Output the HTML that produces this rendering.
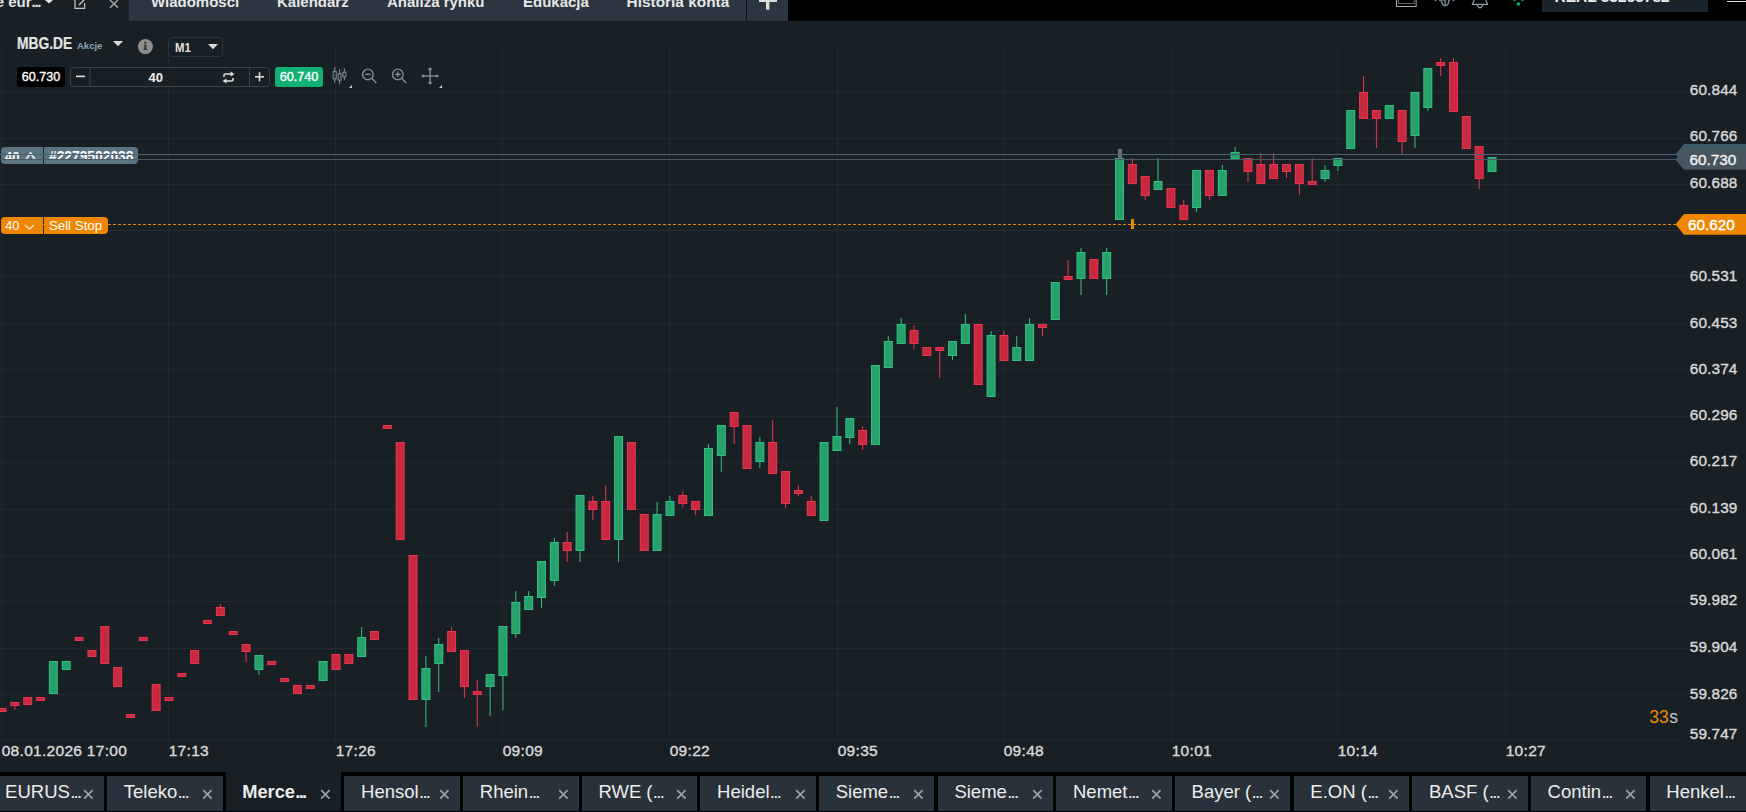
<!DOCTYPE html>
<html><head><meta charset="utf-8">
<style>
*{margin:0;padding:0;box-sizing:border-box}
html,body{width:1746px;height:812px;overflow:hidden;background:#182026;font-family:"Liberation Sans",sans-serif}
.abs{position:absolute}
#top{position:absolute;left:0;top:0;width:1746px;height:21px;background:#182026;overflow:hidden}
#tabs{position:absolute;left:129px;top:0;width:659px;height:21px;background:#2c3640}
#black{position:absolute;left:788px;top:0;width:958px;height:21px;background:#000;overflow:hidden}
.tt{position:absolute;top:-6.8px;font-weight:bold;font-size:15px;color:#e6e6e6;white-space:nowrap;line-height:18px}
#chart{position:absolute;left:0;top:21px;width:1746px;height:751px;background:#182026}
svg{position:absolute;left:0;top:0}
.pl{position:absolute;left:1689.8px;font-size:15.3px;letter-spacing:0.15px;color:#d8d8d8;line-height:20px;white-space:nowrap;-webkit-text-stroke:0.4px #d8d8d8}
.tl{position:absolute;top:740.6px;font-size:15.5px;letter-spacing:0.3px;color:#d8d8d8;line-height:20px;white-space:nowrap;-webkit-text-stroke:0.4px #d8d8d8}
#btabs{position:absolute;left:0;top:772px;width:1746px;height:40px;background:#000}
.bt{position:absolute;top:4px;width:115.6px;height:35px;background:#29323a;overflow:hidden}
.bt.sel{top:0;height:39px;background:#182026}
.btt{position:absolute;left:16.8px;top:5px;font-size:18.5px;color:#ececec;white-space:nowrap;line-height:22px}
.dots{letter-spacing:-1.7px;margin-left:0.3px}
.sel .btt{font-weight:bold;top:9px;left:16.5px;font-size:18.3px}
.btx{position:absolute;left:94.5px;top:13.2px}
.sel .btx{top:17.2px;left:94px}
</style></head><body>
<div id="chart">
<svg width="1746" height="751" viewBox="0 21 1746 751" shape-rendering="crispEdges">
<rect x="0" y="91" width="1687" height="1" fill="#212a31"/>
<rect x="0" y="138" width="1687" height="1" fill="#212a31"/>
<rect x="0" y="184" width="1687" height="1" fill="#212a31"/>
<rect x="0" y="230" width="1687" height="1" fill="#212a31"/>
<rect x="0" y="276" width="1687" height="1" fill="#212a31"/>
<rect x="0" y="323" width="1687" height="1" fill="#212a31"/>
<rect x="0" y="369" width="1687" height="1" fill="#212a31"/>
<rect x="0" y="416" width="1687" height="1" fill="#212a31"/>
<rect x="0" y="462" width="1687" height="1" fill="#212a31"/>
<rect x="0" y="509" width="1687" height="1" fill="#212a31"/>
<rect x="0" y="555" width="1687" height="1" fill="#212a31"/>
<rect x="0" y="601" width="1687" height="1" fill="#212a31"/>
<rect x="0" y="648" width="1687" height="1" fill="#212a31"/>
<rect x="0" y="694" width="1687" height="1" fill="#212a31"/>
<rect x="0" y="740" width="1680" height="1" fill="#212a31"/>
<rect x="1" y="45" width="1" height="696" fill="#212a31"/>
<rect x="168" y="45" width="1" height="696" fill="#212a31"/>
<rect x="335" y="45" width="1" height="696" fill="#212a31"/>
<rect x="502" y="45" width="1" height="696" fill="#212a31"/>
<rect x="669" y="45" width="1" height="696" fill="#212a31"/>
<rect x="837" y="45" width="1" height="696" fill="#212a31"/>
<rect x="1003" y="45" width="1" height="696" fill="#212a31"/>
<rect x="1171" y="45" width="1" height="696" fill="#212a31"/>
<rect x="1337" y="45" width="1" height="696" fill="#212a31"/>
<rect x="1505" y="45" width="1" height="696" fill="#212a31"/>
<g shape-rendering="auto">
<rect x="-2.50" y="708" width="9" height="4" fill="#e8354b"/>
<rect x="-1.50" y="709" width="7" height="2" fill="#c9293e"/>
<rect x="14.35" y="706" width="1" height="4" fill="#e8354b"/>
<rect x="10.35" y="702" width="9" height="4" fill="#e8354b"/>
<rect x="11.35" y="703" width="7" height="2" fill="#c9293e"/>
<rect x="23.19" y="697" width="9" height="8" fill="#e8354b"/>
<rect x="24.19" y="698" width="7" height="6" fill="#c9293e"/>
<rect x="36.04" y="697" width="9" height="4" fill="#e8354b"/>
<rect x="37.04" y="698" width="7" height="2" fill="#c9293e"/>
<rect x="48.88" y="661" width="9" height="33" fill="#2fc07f"/>
<rect x="49.88" y="662" width="7" height="31" fill="#27a06b"/>
<rect x="61.73" y="661" width="9" height="9" fill="#2fc07f"/>
<rect x="62.73" y="662" width="7" height="7" fill="#27a06b"/>
<rect x="74.57" y="637" width="9" height="4" fill="#e8354b"/>
<rect x="75.57" y="638" width="7" height="2" fill="#c9293e"/>
<rect x="87.42" y="650" width="9" height="7" fill="#e8354b"/>
<rect x="88.42" y="651" width="7" height="5" fill="#c9293e"/>
<rect x="100.26" y="626" width="9" height="38" fill="#e8354b"/>
<rect x="101.26" y="627" width="7" height="36" fill="#c9293e"/>
<rect x="113.11" y="667" width="9" height="20" fill="#e8354b"/>
<rect x="114.11" y="668" width="7" height="18" fill="#c9293e"/>
<rect x="125.95" y="714" width="9" height="4" fill="#e8354b"/>
<rect x="126.95" y="715" width="7" height="2" fill="#c9293e"/>
<rect x="138.80" y="637" width="9" height="4" fill="#e8354b"/>
<rect x="139.80" y="638" width="7" height="2" fill="#c9293e"/>
<rect x="151.64" y="684" width="9" height="27" fill="#e8354b"/>
<rect x="152.64" y="685" width="7" height="25" fill="#c9293e"/>
<rect x="164.49" y="697" width="9" height="4" fill="#e8354b"/>
<rect x="165.49" y="698" width="7" height="2" fill="#c9293e"/>
<rect x="177.33" y="673" width="9" height="4" fill="#e8354b"/>
<rect x="178.33" y="674" width="7" height="2" fill="#c9293e"/>
<rect x="190.18" y="650" width="9" height="14" fill="#e8354b"/>
<rect x="191.18" y="651" width="7" height="12" fill="#c9293e"/>
<rect x="203.02" y="620" width="9" height="4" fill="#e8354b"/>
<rect x="204.02" y="621" width="7" height="2" fill="#c9293e"/>
<rect x="219.87" y="604" width="1" height="3" fill="#e8354b"/>
<rect x="215.87" y="607" width="9" height="9" fill="#e8354b"/>
<rect x="216.87" y="608" width="7" height="7" fill="#c9293e"/>
<rect x="228.71" y="631" width="9" height="4" fill="#e8354b"/>
<rect x="229.71" y="632" width="7" height="2" fill="#c9293e"/>
<rect x="245.56" y="652" width="1" height="10" fill="#e8354b"/>
<rect x="241.56" y="644" width="9" height="8" fill="#e8354b"/>
<rect x="242.56" y="645" width="7" height="6" fill="#c9293e"/>
<rect x="258.40" y="670" width="1" height="5" fill="#2fc07f"/>
<rect x="254.40" y="655" width="9" height="15" fill="#2fc07f"/>
<rect x="255.40" y="656" width="7" height="13" fill="#27a06b"/>
<rect x="267.25" y="661" width="9" height="4" fill="#e8354b"/>
<rect x="268.25" y="662" width="7" height="2" fill="#c9293e"/>
<rect x="280.09" y="678" width="9" height="4" fill="#e8354b"/>
<rect x="281.09" y="679" width="7" height="2" fill="#c9293e"/>
<rect x="292.94" y="685" width="9" height="9" fill="#e8354b"/>
<rect x="293.94" y="686" width="7" height="7" fill="#c9293e"/>
<rect x="305.78" y="685" width="9" height="4" fill="#e8354b"/>
<rect x="306.78" y="686" width="7" height="2" fill="#c9293e"/>
<rect x="318.62" y="661" width="9" height="20" fill="#2fc07f"/>
<rect x="319.62" y="662" width="7" height="18" fill="#27a06b"/>
<rect x="331.47" y="654" width="9" height="16" fill="#e8354b"/>
<rect x="332.47" y="655" width="7" height="14" fill="#c9293e"/>
<rect x="344.31" y="654" width="9" height="10" fill="#e8354b"/>
<rect x="345.31" y="655" width="7" height="8" fill="#c9293e"/>
<rect x="361.16" y="627" width="1" height="10" fill="#2fc07f"/>
<rect x="357.16" y="637" width="9" height="20" fill="#2fc07f"/>
<rect x="358.16" y="638" width="7" height="18" fill="#27a06b"/>
<rect x="370.00" y="631" width="9" height="9" fill="#e8354b"/>
<rect x="371.00" y="632" width="7" height="7" fill="#c9293e"/>
<rect x="382.85" y="425" width="9" height="4" fill="#e8354b"/>
<rect x="383.85" y="426" width="7" height="2" fill="#c9293e"/>
<rect x="395.69" y="442" width="9" height="98" fill="#e8354b"/>
<rect x="396.69" y="443" width="7" height="96" fill="#c9293e"/>
<rect x="408.54" y="555" width="9" height="145" fill="#e8354b"/>
<rect x="409.54" y="556" width="7" height="143" fill="#c9293e"/>
<rect x="425.39" y="656" width="1" height="12" fill="#2fc07f"/>
<rect x="425.39" y="700" width="1" height="27" fill="#2fc07f"/>
<rect x="421.39" y="668" width="9" height="32" fill="#2fc07f"/>
<rect x="422.39" y="669" width="7" height="30" fill="#27a06b"/>
<rect x="438.23" y="638" width="1" height="6" fill="#2fc07f"/>
<rect x="438.23" y="664" width="1" height="28" fill="#2fc07f"/>
<rect x="434.23" y="644" width="9" height="20" fill="#2fc07f"/>
<rect x="435.23" y="645" width="7" height="18" fill="#27a06b"/>
<rect x="451.08" y="627" width="1" height="4" fill="#e8354b"/>
<rect x="447.08" y="631" width="9" height="21" fill="#e8354b"/>
<rect x="448.08" y="632" width="7" height="19" fill="#c9293e"/>
<rect x="463.92" y="687" width="1" height="11" fill="#e8354b"/>
<rect x="459.92" y="650" width="9" height="37" fill="#e8354b"/>
<rect x="460.92" y="651" width="7" height="35" fill="#c9293e"/>
<rect x="476.77" y="680" width="1" height="11" fill="#e8354b"/>
<rect x="476.77" y="695" width="1" height="32" fill="#e8354b"/>
<rect x="472.77" y="691" width="9" height="4" fill="#e8354b"/>
<rect x="473.77" y="692" width="7" height="2" fill="#c9293e"/>
<rect x="489.61" y="687" width="1" height="29" fill="#2fc07f"/>
<rect x="485.61" y="674" width="9" height="13" fill="#2fc07f"/>
<rect x="486.61" y="675" width="7" height="11" fill="#27a06b"/>
<rect x="502.46" y="676" width="1" height="34" fill="#2fc07f"/>
<rect x="498.46" y="626" width="9" height="50" fill="#2fc07f"/>
<rect x="499.46" y="627" width="7" height="48" fill="#27a06b"/>
<rect x="515.30" y="591" width="1" height="11" fill="#2fc07f"/>
<rect x="515.30" y="634" width="1" height="4" fill="#2fc07f"/>
<rect x="511.30" y="602" width="9" height="32" fill="#2fc07f"/>
<rect x="512.30" y="603" width="7" height="30" fill="#27a06b"/>
<rect x="528.14" y="591" width="1" height="5" fill="#2fc07f"/>
<rect x="524.14" y="596" width="9" height="14" fill="#2fc07f"/>
<rect x="525.14" y="597" width="7" height="12" fill="#27a06b"/>
<rect x="540.99" y="598" width="1" height="10" fill="#2fc07f"/>
<rect x="536.99" y="561" width="9" height="37" fill="#2fc07f"/>
<rect x="537.99" y="562" width="7" height="35" fill="#27a06b"/>
<rect x="553.84" y="538" width="1" height="4" fill="#2fc07f"/>
<rect x="553.84" y="581" width="1" height="5" fill="#2fc07f"/>
<rect x="549.84" y="542" width="9" height="39" fill="#2fc07f"/>
<rect x="550.84" y="543" width="7" height="37" fill="#27a06b"/>
<rect x="566.68" y="532" width="1" height="10" fill="#e8354b"/>
<rect x="566.68" y="551" width="1" height="11" fill="#e8354b"/>
<rect x="562.68" y="542" width="9" height="9" fill="#e8354b"/>
<rect x="563.68" y="543" width="7" height="7" fill="#c9293e"/>
<rect x="579.52" y="551" width="1" height="11" fill="#2fc07f"/>
<rect x="575.52" y="495" width="9" height="56" fill="#2fc07f"/>
<rect x="576.52" y="496" width="7" height="54" fill="#27a06b"/>
<rect x="592.37" y="496" width="1" height="5" fill="#e8354b"/>
<rect x="592.37" y="510" width="1" height="10" fill="#e8354b"/>
<rect x="588.37" y="501" width="9" height="9" fill="#e8354b"/>
<rect x="589.37" y="502" width="7" height="7" fill="#c9293e"/>
<rect x="605.22" y="485" width="1" height="16" fill="#e8354b"/>
<rect x="601.22" y="501" width="9" height="39" fill="#e8354b"/>
<rect x="602.22" y="502" width="7" height="37" fill="#c9293e"/>
<rect x="618.06" y="540" width="1" height="22" fill="#2fc07f"/>
<rect x="614.06" y="436" width="9" height="104" fill="#2fc07f"/>
<rect x="615.06" y="437" width="7" height="102" fill="#27a06b"/>
<rect x="626.91" y="442" width="9" height="68" fill="#e8354b"/>
<rect x="627.91" y="443" width="7" height="66" fill="#c9293e"/>
<rect x="639.75" y="514" width="9" height="37" fill="#e8354b"/>
<rect x="640.75" y="515" width="7" height="35" fill="#c9293e"/>
<rect x="656.60" y="502" width="1" height="12" fill="#2fc07f"/>
<rect x="652.60" y="514" width="9" height="37" fill="#2fc07f"/>
<rect x="653.60" y="515" width="7" height="35" fill="#27a06b"/>
<rect x="669.44" y="496" width="1" height="5" fill="#2fc07f"/>
<rect x="665.44" y="501" width="9" height="15" fill="#2fc07f"/>
<rect x="666.44" y="502" width="7" height="13" fill="#27a06b"/>
<rect x="682.29" y="491" width="1" height="4" fill="#e8354b"/>
<rect x="682.29" y="504" width="1" height="4" fill="#e8354b"/>
<rect x="678.29" y="495" width="9" height="9" fill="#e8354b"/>
<rect x="679.29" y="496" width="7" height="7" fill="#c9293e"/>
<rect x="695.13" y="510" width="1" height="5" fill="#e8354b"/>
<rect x="691.13" y="501" width="9" height="9" fill="#e8354b"/>
<rect x="692.13" y="502" width="7" height="7" fill="#c9293e"/>
<rect x="707.98" y="444" width="1" height="4" fill="#2fc07f"/>
<rect x="703.98" y="448" width="9" height="68" fill="#2fc07f"/>
<rect x="704.98" y="449" width="7" height="66" fill="#27a06b"/>
<rect x="720.82" y="456" width="1" height="16" fill="#2fc07f"/>
<rect x="716.82" y="425" width="9" height="31" fill="#2fc07f"/>
<rect x="717.82" y="426" width="7" height="29" fill="#27a06b"/>
<rect x="733.67" y="427" width="1" height="17" fill="#e8354b"/>
<rect x="729.67" y="412" width="9" height="15" fill="#e8354b"/>
<rect x="730.67" y="413" width="7" height="13" fill="#c9293e"/>
<rect x="742.51" y="425" width="9" height="44" fill="#e8354b"/>
<rect x="743.51" y="426" width="7" height="42" fill="#c9293e"/>
<rect x="759.36" y="437" width="1" height="5" fill="#2fc07f"/>
<rect x="759.36" y="462" width="1" height="6" fill="#2fc07f"/>
<rect x="755.36" y="442" width="9" height="20" fill="#2fc07f"/>
<rect x="756.36" y="443" width="7" height="18" fill="#27a06b"/>
<rect x="772.20" y="420" width="1" height="22" fill="#e8354b"/>
<rect x="768.20" y="442" width="9" height="32" fill="#e8354b"/>
<rect x="769.20" y="443" width="7" height="30" fill="#c9293e"/>
<rect x="785.05" y="504" width="1" height="4" fill="#e8354b"/>
<rect x="781.05" y="471" width="9" height="33" fill="#e8354b"/>
<rect x="782.05" y="472" width="7" height="31" fill="#c9293e"/>
<rect x="797.89" y="485" width="1" height="5" fill="#e8354b"/>
<rect x="797.89" y="494" width="1" height="2" fill="#e8354b"/>
<rect x="793.89" y="490" width="9" height="4" fill="#e8354b"/>
<rect x="794.89" y="491" width="7" height="2" fill="#c9293e"/>
<rect x="810.74" y="496" width="1" height="5" fill="#e8354b"/>
<rect x="806.74" y="501" width="9" height="15" fill="#e8354b"/>
<rect x="807.74" y="502" width="7" height="13" fill="#c9293e"/>
<rect x="819.58" y="442" width="9" height="79" fill="#2fc07f"/>
<rect x="820.58" y="443" width="7" height="77" fill="#27a06b"/>
<rect x="836.43" y="407" width="1" height="29" fill="#2fc07f"/>
<rect x="832.43" y="436" width="9" height="15" fill="#2fc07f"/>
<rect x="833.43" y="437" width="7" height="13" fill="#27a06b"/>
<rect x="849.27" y="438" width="1" height="6" fill="#2fc07f"/>
<rect x="845.27" y="418" width="9" height="20" fill="#2fc07f"/>
<rect x="846.27" y="419" width="7" height="18" fill="#27a06b"/>
<rect x="862.12" y="426" width="1" height="4" fill="#e8354b"/>
<rect x="862.12" y="445" width="1" height="5" fill="#e8354b"/>
<rect x="858.12" y="430" width="9" height="15" fill="#e8354b"/>
<rect x="859.12" y="431" width="7" height="13" fill="#c9293e"/>
<rect x="870.96" y="365" width="9" height="80" fill="#2fc07f"/>
<rect x="871.96" y="366" width="7" height="78" fill="#27a06b"/>
<rect x="887.81" y="336" width="1" height="5" fill="#2fc07f"/>
<rect x="883.81" y="341" width="9" height="27" fill="#2fc07f"/>
<rect x="884.81" y="342" width="7" height="25" fill="#27a06b"/>
<rect x="900.65" y="318" width="1" height="6" fill="#2fc07f"/>
<rect x="896.65" y="324" width="9" height="20" fill="#2fc07f"/>
<rect x="897.65" y="325" width="7" height="18" fill="#27a06b"/>
<rect x="913.50" y="325" width="1" height="5" fill="#e8354b"/>
<rect x="913.50" y="344" width="1" height="5" fill="#e8354b"/>
<rect x="909.50" y="330" width="9" height="14" fill="#e8354b"/>
<rect x="910.50" y="331" width="7" height="12" fill="#c9293e"/>
<rect x="922.34" y="347" width="9" height="9" fill="#e8354b"/>
<rect x="923.34" y="348" width="7" height="7" fill="#c9293e"/>
<rect x="939.19" y="351" width="1" height="27" fill="#e8354b"/>
<rect x="935.19" y="347" width="9" height="4" fill="#e8354b"/>
<rect x="936.19" y="348" width="7" height="2" fill="#c9293e"/>
<rect x="952.03" y="356" width="1" height="4" fill="#2fc07f"/>
<rect x="948.03" y="341" width="9" height="15" fill="#2fc07f"/>
<rect x="949.03" y="342" width="7" height="13" fill="#27a06b"/>
<rect x="964.88" y="314" width="1" height="10" fill="#2fc07f"/>
<rect x="960.88" y="324" width="9" height="20" fill="#2fc07f"/>
<rect x="961.88" y="325" width="7" height="18" fill="#27a06b"/>
<rect x="973.72" y="324" width="9" height="61" fill="#e8354b"/>
<rect x="974.72" y="325" width="7" height="59" fill="#c9293e"/>
<rect x="990.57" y="331" width="1" height="4" fill="#2fc07f"/>
<rect x="986.57" y="335" width="9" height="62" fill="#2fc07f"/>
<rect x="987.57" y="336" width="7" height="60" fill="#27a06b"/>
<rect x="1003.41" y="331" width="1" height="4" fill="#e8354b"/>
<rect x="999.41" y="335" width="9" height="26" fill="#e8354b"/>
<rect x="1000.41" y="336" width="7" height="24" fill="#c9293e"/>
<rect x="1016.25" y="336" width="1" height="11" fill="#2fc07f"/>
<rect x="1012.25" y="347" width="9" height="14" fill="#2fc07f"/>
<rect x="1013.25" y="348" width="7" height="12" fill="#27a06b"/>
<rect x="1029.10" y="318" width="1" height="6" fill="#2fc07f"/>
<rect x="1025.10" y="324" width="9" height="37" fill="#2fc07f"/>
<rect x="1026.10" y="325" width="7" height="35" fill="#27a06b"/>
<rect x="1041.95" y="328" width="1" height="8" fill="#e8354b"/>
<rect x="1037.95" y="324" width="9" height="4" fill="#e8354b"/>
<rect x="1038.95" y="325" width="7" height="2" fill="#c9293e"/>
<rect x="1050.79" y="282" width="9" height="38" fill="#2fc07f"/>
<rect x="1051.79" y="283" width="7" height="36" fill="#27a06b"/>
<rect x="1067.63" y="260" width="1" height="16" fill="#e8354b"/>
<rect x="1063.63" y="276" width="9" height="4" fill="#e8354b"/>
<rect x="1064.63" y="277" width="7" height="2" fill="#c9293e"/>
<rect x="1080.48" y="248" width="1" height="4" fill="#2fc07f"/>
<rect x="1080.48" y="279" width="1" height="16" fill="#2fc07f"/>
<rect x="1076.48" y="252" width="9" height="27" fill="#2fc07f"/>
<rect x="1077.48" y="253" width="7" height="25" fill="#27a06b"/>
<rect x="1089.33" y="259" width="9" height="20" fill="#e8354b"/>
<rect x="1090.33" y="260" width="7" height="18" fill="#c9293e"/>
<rect x="1106.17" y="248" width="1" height="4" fill="#2fc07f"/>
<rect x="1106.17" y="279" width="1" height="16" fill="#2fc07f"/>
<rect x="1102.17" y="252" width="9" height="27" fill="#2fc07f"/>
<rect x="1103.17" y="253" width="7" height="25" fill="#27a06b"/>
<rect x="1115.02" y="158" width="9" height="62" fill="#2fc07f"/>
<rect x="1116.02" y="159" width="7" height="60" fill="#27a06b"/>
<rect x="1131.86" y="158" width="1" height="6" fill="#e8354b"/>
<rect x="1127.86" y="164" width="9" height="20" fill="#e8354b"/>
<rect x="1128.86" y="165" width="7" height="18" fill="#c9293e"/>
<rect x="1144.71" y="196" width="1" height="4" fill="#e8354b"/>
<rect x="1140.71" y="176" width="9" height="20" fill="#e8354b"/>
<rect x="1141.71" y="177" width="7" height="18" fill="#c9293e"/>
<rect x="1157.55" y="158" width="1" height="23" fill="#2fc07f"/>
<rect x="1153.55" y="181" width="9" height="9" fill="#2fc07f"/>
<rect x="1154.55" y="182" width="7" height="7" fill="#27a06b"/>
<rect x="1166.39" y="188" width="9" height="20" fill="#e8354b"/>
<rect x="1167.39" y="189" width="7" height="18" fill="#c9293e"/>
<rect x="1183.24" y="200" width="1" height="5" fill="#e8354b"/>
<rect x="1179.24" y="205" width="9" height="15" fill="#e8354b"/>
<rect x="1180.24" y="206" width="7" height="13" fill="#c9293e"/>
<rect x="1196.09" y="208" width="1" height="4" fill="#2fc07f"/>
<rect x="1192.09" y="170" width="9" height="38" fill="#2fc07f"/>
<rect x="1193.09" y="171" width="7" height="36" fill="#27a06b"/>
<rect x="1208.93" y="196" width="1" height="4" fill="#e8354b"/>
<rect x="1204.93" y="170" width="9" height="26" fill="#e8354b"/>
<rect x="1205.93" y="171" width="7" height="24" fill="#c9293e"/>
<rect x="1221.78" y="165" width="1" height="5" fill="#2fc07f"/>
<rect x="1217.78" y="170" width="9" height="26" fill="#2fc07f"/>
<rect x="1218.78" y="171" width="7" height="24" fill="#27a06b"/>
<rect x="1234.62" y="147" width="1" height="5" fill="#2fc07f"/>
<rect x="1230.62" y="152" width="9" height="7" fill="#2fc07f"/>
<rect x="1231.62" y="153" width="7" height="5" fill="#27a06b"/>
<rect x="1247.47" y="172" width="1" height="10" fill="#e8354b"/>
<rect x="1243.47" y="158" width="9" height="14" fill="#e8354b"/>
<rect x="1244.47" y="159" width="7" height="12" fill="#c9293e"/>
<rect x="1260.31" y="153" width="1" height="11" fill="#e8354b"/>
<rect x="1256.31" y="164" width="9" height="20" fill="#e8354b"/>
<rect x="1257.31" y="165" width="7" height="18" fill="#c9293e"/>
<rect x="1273.15" y="153" width="1" height="11" fill="#e8354b"/>
<rect x="1269.15" y="164" width="9" height="15" fill="#e8354b"/>
<rect x="1270.15" y="165" width="7" height="13" fill="#c9293e"/>
<rect x="1286.00" y="172" width="1" height="6" fill="#e8354b"/>
<rect x="1282.00" y="164" width="9" height="8" fill="#e8354b"/>
<rect x="1283.00" y="165" width="7" height="6" fill="#c9293e"/>
<rect x="1298.85" y="184" width="1" height="11" fill="#e8354b"/>
<rect x="1294.85" y="164" width="9" height="20" fill="#e8354b"/>
<rect x="1295.85" y="165" width="7" height="18" fill="#c9293e"/>
<rect x="1311.69" y="158" width="1" height="23" fill="#e8354b"/>
<rect x="1307.69" y="181" width="9" height="4" fill="#e8354b"/>
<rect x="1308.69" y="182" width="7" height="2" fill="#c9293e"/>
<rect x="1324.54" y="165" width="1" height="5" fill="#2fc07f"/>
<rect x="1324.54" y="179" width="1" height="3" fill="#2fc07f"/>
<rect x="1320.54" y="170" width="9" height="9" fill="#2fc07f"/>
<rect x="1321.54" y="171" width="7" height="7" fill="#27a06b"/>
<rect x="1337.38" y="166" width="1" height="5" fill="#2fc07f"/>
<rect x="1333.38" y="158" width="9" height="8" fill="#2fc07f"/>
<rect x="1334.38" y="159" width="7" height="6" fill="#27a06b"/>
<rect x="1346.23" y="110" width="9" height="39" fill="#2fc07f"/>
<rect x="1347.23" y="111" width="7" height="37" fill="#27a06b"/>
<rect x="1363.07" y="76" width="1" height="16" fill="#e8354b"/>
<rect x="1359.07" y="92" width="9" height="27" fill="#e8354b"/>
<rect x="1360.07" y="93" width="7" height="25" fill="#c9293e"/>
<rect x="1375.91" y="119" width="1" height="29" fill="#e8354b"/>
<rect x="1371.91" y="110" width="9" height="9" fill="#e8354b"/>
<rect x="1372.91" y="111" width="7" height="7" fill="#c9293e"/>
<rect x="1384.76" y="105" width="9" height="14" fill="#2fc07f"/>
<rect x="1385.76" y="106" width="7" height="12" fill="#27a06b"/>
<rect x="1401.61" y="142" width="1" height="12" fill="#e8354b"/>
<rect x="1397.61" y="110" width="9" height="32" fill="#e8354b"/>
<rect x="1398.61" y="111" width="7" height="30" fill="#c9293e"/>
<rect x="1414.45" y="136" width="1" height="12" fill="#2fc07f"/>
<rect x="1410.45" y="92" width="9" height="44" fill="#2fc07f"/>
<rect x="1411.45" y="93" width="7" height="42" fill="#27a06b"/>
<rect x="1427.30" y="108" width="1" height="3" fill="#2fc07f"/>
<rect x="1423.30" y="68" width="9" height="40" fill="#2fc07f"/>
<rect x="1424.30" y="69" width="7" height="38" fill="#27a06b"/>
<rect x="1440.14" y="58" width="1" height="4" fill="#e8354b"/>
<rect x="1440.14" y="66" width="1" height="10" fill="#e8354b"/>
<rect x="1436.14" y="62" width="9" height="4" fill="#e8354b"/>
<rect x="1437.14" y="63" width="7" height="2" fill="#c9293e"/>
<rect x="1452.99" y="58" width="1" height="4" fill="#e8354b"/>
<rect x="1448.99" y="62" width="9" height="50" fill="#e8354b"/>
<rect x="1449.99" y="63" width="7" height="48" fill="#c9293e"/>
<rect x="1461.83" y="116" width="9" height="33" fill="#e8354b"/>
<rect x="1462.83" y="117" width="7" height="31" fill="#c9293e"/>
<rect x="1478.68" y="179" width="1" height="10" fill="#e8354b"/>
<rect x="1474.68" y="146" width="9" height="33" fill="#e8354b"/>
<rect x="1475.68" y="147" width="7" height="31" fill="#c9293e"/>
<rect x="1487.52" y="157" width="9" height="15" fill="#2fc07f"/>
<rect x="1488.52" y="158" width="7" height="13" fill="#27a06b"/>
</g>
</svg>
</div>
<div class="abs" style="left:0;top:0;width:1746px;height:812px">
<div class="pl" style="top:79.65px">60.844</div>
<div class="pl" style="top:125.95px">60.766</div>
<div class="pl" style="top:172.65px">60.688</div>
<div class="pl" style="top:219.15px">60.609</div>
<div class="pl" style="top:265.60px">60.531</div>
<div class="pl" style="top:313.00px">60.453</div>
<div class="pl" style="top:359.25px">60.374</div>
<div class="pl" style="top:404.75px">60.296</div>
<div class="pl" style="top:451.15px">60.217</div>
<div class="pl" style="top:498.00px">60.139</div>
<div class="pl" style="top:544.25px">60.061</div>
<div class="pl" style="top:590.30px">59.982</div>
<div class="pl" style="top:637.00px">59.904</div>
<div class="pl" style="top:683.80px">59.826</div>
<div class="pl" style="top:723.65px">59.747</div>
<div class="tl" style="left:1.7px">08.01.2026 17:00</div>
<div class="tl" style="left:168.7px">17:13</div>
<div class="tl" style="left:335.7px">17:26</div>
<div class="tl" style="left:502.7px">09:09</div>
<div class="tl" style="left:669.7px">09:22</div>
<div class="tl" style="left:837.7px">09:35</div>
<div class="tl" style="left:1003.7px">09:48</div>
<div class="tl" style="left:1171.7px">10:01</div>
<div class="tl" style="left:1337.7px">10:14</div>
<div class="tl" style="left:1505.7px">10:27</div>
</div>
<svg width="1746" height="812" style="position:absolute;left:0;top:0">
<line x1="108" y1="224.5" x2="1676" y2="224.5" stroke="#e88a00" stroke-width="1" stroke-dasharray="3 2" shape-rendering="crispEdges"/>
<rect x="1118" y="149" width="4" height="10" fill="#5d7482"/>
<rect x="1131" y="219" width="3" height="10" fill="#e88a00"/>
<path d="M1675.5 154.3 L1684 144 L1746 144 L1746 164.7 L1684 164.7 Z" fill="#3e5969"/>
<path d="M1675.5 159.4 L1684 149 L1746 149 L1746 169.8 L1684 169.8 Z" fill="#47555f"/>
<path d="M1675.5 224.3 L1684 214 L1746 214 L1746 234.8 L1684 234.8 Z" fill="#ee8600"/>
</svg>

<div class="abs" style="left:1px;top:147px;width:137px;height:17px;border-radius:4px;background:#5a7483;overflow:hidden">
  <div class="abs" style="left:41.8px;top:0;width:1.4px;height:17px;background:#1d2830"></div>
  <div class="abs" style="left:0;top:0;width:137px;height:12px;overflow:hidden">
    <div class="abs" style="left:4px;top:3px;font-weight:bold;font-size:13px;color:#fff;line-height:14px;white-space:nowrap">40</div>
    <svg class="abs" style="left:0;top:0" width="137" height="17"><path d="M24.8 13 L29.5 6 L34.2 13" fill="none" stroke="#d5dde1" stroke-width="2.2" stroke-linejoin="round"/></svg>
    <div class="abs" style="left:48px;top:3px;font-weight:bold;font-size:13.8px;color:#fff;line-height:14px;white-space:nowrap">#2279502038</div>
  </div>
</div>
<div class="abs" style="left:1px;top:217px;width:107px;height:17px;border-radius:4px;background:#ee8600;overflow:hidden">
  <div class="abs" style="left:41.8px;top:0;width:1.4px;height:17px;background:#1d2830"></div>
  <div class="abs" style="left:41.8px;top:7px;width:1.4px;height:1px;background:#e88a00"></div>
  <div class="abs" style="left:4.2px;top:1px;font-size:12.8px;color:#fff;line-height:15px;white-space:nowrap">40</div>
  <svg class="abs" style="left:0;top:0" width="50" height="17"><path d="M24 8 L28.5 12 L33 8" fill="none" stroke="#fde3c6" stroke-width="1.5"/></svg>
  <div class="abs" style="left:47.9px;top:1px;font-size:13.3px;color:#fff;line-height:15px;white-space:nowrap">Sell Stop</div>
</div>
<div class="abs" style="left:1689.5px;top:149.5px;font-size:15.3px;color:#f2f2f2;line-height:20px;-webkit-text-stroke:0.4px #f2f2f2" >60.730</div>
<div class="abs" style="left:1688px;top:214.5px;font-size:15.3px;color:#fff;line-height:20px;-webkit-text-stroke:0.4px #fff" >60.620</div>
<div class="abs" style="left:1649.3px;top:706.5px;font-size:17.5px;color:#f08a00;line-height:20px">33<span style="color:#c8c8c8;margin-left:0.5px">s</span></div>

<svg width="1680" height="170" style="position:absolute;left:0;top:0" shape-rendering="crispEdges"><rect x="0" y="154" width="1676" height="1" fill="#4a6473"/><rect x="0" y="159" width="1676" height="1" fill="#4b5963"/></svg>

<div class="abs" style="left:17px;top:33.9px;font-weight:bold;font-size:15.8px;color:#e4e4e4;-webkit-text-stroke:0.2px #e4e4e4;line-height:20px;transform:scaleX(0.873);transform-origin:0 0;white-space:nowrap">MBG.DE</div>
<div class="abs" style="left:77px;top:40px;font-weight:bold;font-size:9.5px;color:#8ea3b0;line-height:12px;white-space:nowrap">Akcje</div>
<svg class="abs" style="left:0;top:0" width="460" height="95">
 <path d="M113 41 L123 41 L118 46.3 Z" fill="#dcdcdc"/>
 <circle cx="145.4" cy="46.6" r="7.5" fill="#8e8e8e"/>
 <rect x="144" y="41.8" width="2.6" height="1.8" fill="#3a3a3a"/>
 <rect x="144.2" y="44.6" width="2.3" height="4.8" fill="#3a3a3a"/>
 <rect x="143.4" y="48.8" width="3.9" height="1.3" fill="#3a3a3a"/>
 <rect x="168.5" y="37.5" width="54" height="19" rx="3" fill="#182026" stroke="#2b343c" stroke-width="1"/>
 <path d="M208 44 L218 44 L213 49.2 Z" fill="#dcdcdc"/>
 <rect x="17" y="67" width="48" height="20" rx="3" fill="#000"/>
 <rect x="70.5" y="67.5" width="199" height="19" rx="3" fill="#182026" stroke="#38424b" stroke-width="1"/>
 <rect x="89.5" y="67.5" width="1" height="19" fill="#38424b"/>
 <rect x="249" y="67.5" width="1" height="19" fill="#38424b"/>
 <rect x="76" y="75.6" width="9" height="1.6" fill="#dedede"/>
 <rect x="255" y="76" width="9" height="1.6" fill="#dedede"/>
 <rect x="258.7" y="72.3" width="1.6" height="9" fill="#dedede"/>
 <g fill="none" stroke="#dedede" stroke-width="1.6">
  <path d="M224 77 L224 75 Q224 74 225.5 74 L233 74"/>
  <path d="M233 78 L233 80 Q233 81 231.5 81 L224 81"/>
 </g>
 <path d="M230.5 71.5 L234.5 74 L230.5 76.5 Z" fill="#dedede"/>
 <path d="M226.5 78.5 L222.5 81 L226.5 83.5 Z" fill="#dedede"/>
 <rect x="275" y="67" width="48" height="20" rx="3" fill="#11b174"/>
 <g fill="none" stroke="#7a8c96" stroke-width="1.1">
  <line x1="334.7" y1="67.3" x2="334.7" y2="82.6"/><rect x="333.2" y="71.6" width="3" height="7.2" fill="#1a2229"/>
  <line x1="339.6" y1="69.2" x2="339.6" y2="84"/><rect x="338.2" y="73.7" width="2.8" height="6.5" fill="#1a2229"/>
  <line x1="344.4" y1="68.2" x2="344.4" y2="80.2"/><rect x="342.9" y="72.3" width="3" height="4.5" fill="#1a2229"/>
 </g>
 <path d="M352 85 L352 88 L349 88 Z" fill="#cfcfcf"/>
 <g fill="none" stroke="#7a8c96" stroke-width="1.4">
  <circle cx="367.9" cy="74.4" r="5.3"/><line x1="371.8" y1="78.3" x2="376.3" y2="83"/>
  <line x1="365.2" y1="74.3" x2="370.7" y2="74.3"/>
  <circle cx="397.8" cy="74.4" r="5.3"/><line x1="401.7" y1="78.3" x2="406.2" y2="83"/>
  <line x1="395.1" y1="74.3" x2="400.6" y2="74.3"/><line x1="397.85" y1="71.6" x2="397.85" y2="77.1"/>
  <line x1="423" y1="76" x2="437.5" y2="76"/><line x1="430.1" y1="68.8" x2="430.1" y2="83.2"/>
 </g>
 <g fill="#7a8c96"><circle cx="423.2" cy="76" r="1.6"/><circle cx="437" cy="76" r="1.6"/><circle cx="430.1" cy="69.2" r="1.6"/><circle cx="430.1" cy="82.8" r="1.6"/></g>
 <path d="M442 85 L442 88 L439 88 Z" fill="#cfcfcf"/>
</svg>
<div class="abs" style="left:174.5px;top:39.8px;font-weight:bold;font-size:12.6px;color:#e2e2e2;line-height:16px;transform:scaleX(0.9);transform-origin:0 0">M1</div>
<div class="abs" style="left:21.8px;top:69px;font-size:12.6px;color:#fff;line-height:17px;-webkit-text-stroke:0.35px #fff">60.730</div>
<div class="abs" style="left:148.5px;top:68.5px;font-weight:bold;font-size:13px;color:#f0f0f0;line-height:17px">40</div>
<div class="abs" style="left:279.8px;top:68.5px;font-size:12.6px;color:#fff;line-height:17px;-webkit-text-stroke:0.35px #fff">60.740</div>


<div id="top">
  <div class="tt" style="left:-4.3px;top:-7px">e eur<span style="letter-spacing:-1.3px">...</span></div>
  <svg class="abs" style="left:0;top:0" width="130" height="21">
    <path d="M45 0 L53 0 L49 3.6 Z" fill="#e6e6e6"/>
    <path d="M75 0 L75 8.4 L84.6 8.4 L84.6 3" fill="none" stroke="#c8c8c8" stroke-width="1.2"/>
    <path d="M79 5 L84 0" fill="none" stroke="#c8c8c8" stroke-width="1.4"/>
    <path d="M110 0 L118 7.6 M118 0 L110 7.6" fill="none" stroke="#9a9a9a" stroke-width="1.6"/>
  </svg>
  <div id="tabs">
    <div class="tt" style="left:22px">Wiadomości</div>
    <div class="tt" style="left:148px">Kalendarz</div>
    <div class="tt" style="left:258px">Analiza rynku</div>
    <div class="tt" style="left:394px">Edukacja</div>
    <div class="tt" style="left:497.6px;font-size:15.4px">Historia konta</div>
    <div class="abs" style="left:616.8px;top:0;width:1.4px;height:21px;background:#0c1014"></div>
    <svg class="abs" style="left:618px;top:0" width="41" height="21"><rect x="12" y="0" width="18" height="2" fill="#dcdcdc"/><rect x="19" y="0" width="3.4" height="9.7" fill="#dcdcdc"/></svg>
  </div>
  <div id="black">
    <svg class="abs" style="left:0;top:0" width="958" height="21">
      <rect x="608.5" y="-3" width="19.6" height="9.5" fill="none" stroke="#a8b0b5" stroke-width="1"/>
      <rect x="610.5" y="-3" width="15.6" height="6.5" fill="none" stroke="#59646b" stroke-width="1"/>
      <path d="M657.3 -2 L657.3 6.5 M653.5 -1 Q653.5 5.5 657.3 5.5 Q661 5.5 661 -1" fill="none" stroke="#6b7c86" stroke-width="1.6"/><path d="M646.5 0.5 L668.5 0.5" stroke="#6b7c86" stroke-width="1.3" stroke-dasharray="2 2.5" fill="none"/>
      <path d="M687 -2 L684.5 4.3 L699.5 4.3 L697 -2 M689 5 Q692 10.5 695 5" fill="none" stroke="#8c989e" stroke-width="1.3"/>
      <path d="M725.5 0.5 Q730.5 -3 735.5 0.5" fill="none" stroke="#15b070" stroke-width="2"/>
      <circle cx="730.4" cy="4" r="1.8" fill="#15b070"/>
      <rect x="754" y="0" width="166" height="12" fill="#1b242b"/>
      <rect x="939" y="1" width="19" height="1" fill="#dcdcdc"/>
    </svg>
    <div class="tt" style="left:766.5px;top:-12.1px;font-size:15.5px;color:#f0f0f0">REAL 53265782</div>
  </div>
</div>
<div id="btabs">
<div class="bt" style="left:-11.7px"><span class="btt">EURUS<span class="dots">...</span></span><svg class="btx" width="12" height="12"><path d="M1.2 1.2 L9.6 9.6 M9.6 1.2 L1.2 9.6" stroke="#9ca1a5" stroke-width="1.7" fill="none"/></svg></div>
<div class="bt" style="left:107.0px"><span class="btt">Teleko<span class="dots">...</span></span><svg class="btx" width="12" height="12"><path d="M1.2 1.2 L9.6 9.6 M9.6 1.2 L1.2 9.6" stroke="#9ca1a5" stroke-width="1.7" fill="none"/></svg></div>
<div class="bt sel" style="left:225.7px"><span class="btt">Merce<span class="dots">...</span></span><svg class="btx" width="12" height="12"><path d="M1.2 1.2 L9.6 9.6 M9.6 1.2 L1.2 9.6" stroke="#9ca1a5" stroke-width="1.7" fill="none"/></svg></div>
<div class="bt" style="left:344.3px"><span class="btt">Hensol<span class="dots">...</span></span><svg class="btx" width="12" height="12"><path d="M1.2 1.2 L9.6 9.6 M9.6 1.2 L1.2 9.6" stroke="#9ca1a5" stroke-width="1.7" fill="none"/></svg></div>
<div class="bt" style="left:463.0px"><span class="btt">Rhein<span class="dots">...</span></span><svg class="btx" width="12" height="12"><path d="M1.2 1.2 L9.6 9.6 M9.6 1.2 L1.2 9.6" stroke="#9ca1a5" stroke-width="1.7" fill="none"/></svg></div>
<div class="bt" style="left:581.6px"><span class="btt">RWE (<span class="dots">...</span></span><svg class="btx" width="12" height="12"><path d="M1.2 1.2 L9.6 9.6 M9.6 1.2 L1.2 9.6" stroke="#9ca1a5" stroke-width="1.7" fill="none"/></svg></div>
<div class="bt" style="left:700.3px"><span class="btt">Heidel<span class="dots">...</span></span><svg class="btx" width="12" height="12"><path d="M1.2 1.2 L9.6 9.6 M9.6 1.2 L1.2 9.6" stroke="#9ca1a5" stroke-width="1.7" fill="none"/></svg></div>
<div class="bt" style="left:818.9px"><span class="btt">Sieme<span class="dots">...</span></span><svg class="btx" width="12" height="12"><path d="M1.2 1.2 L9.6 9.6 M9.6 1.2 L1.2 9.6" stroke="#9ca1a5" stroke-width="1.7" fill="none"/></svg></div>
<div class="bt" style="left:937.6px"><span class="btt">Sieme<span class="dots">...</span></span><svg class="btx" width="12" height="12"><path d="M1.2 1.2 L9.6 9.6 M9.6 1.2 L1.2 9.6" stroke="#9ca1a5" stroke-width="1.7" fill="none"/></svg></div>
<div class="bt" style="left:1056.2px"><span class="btt">Nemet<span class="dots">...</span></span><svg class="btx" width="12" height="12"><path d="M1.2 1.2 L9.6 9.6 M9.6 1.2 L1.2 9.6" stroke="#9ca1a5" stroke-width="1.7" fill="none"/></svg></div>
<div class="bt" style="left:1174.8px"><span class="btt">Bayer (<span class="dots">...</span></span><svg class="btx" width="12" height="12"><path d="M1.2 1.2 L9.6 9.6 M9.6 1.2 L1.2 9.6" stroke="#9ca1a5" stroke-width="1.7" fill="none"/></svg></div>
<div class="bt" style="left:1293.5px"><span class="btt">E.ON (<span class="dots">...</span></span><svg class="btx" width="12" height="12"><path d="M1.2 1.2 L9.6 9.6 M9.6 1.2 L1.2 9.6" stroke="#9ca1a5" stroke-width="1.7" fill="none"/></svg></div>
<div class="bt" style="left:1412.2px"><span class="btt">BASF (<span class="dots">...</span></span><svg class="btx" width="12" height="12"><path d="M1.2 1.2 L9.6 9.6 M9.6 1.2 L1.2 9.6" stroke="#9ca1a5" stroke-width="1.7" fill="none"/></svg></div>
<div class="bt" style="left:1530.8px"><span class="btt">Contin<span class="dots">...</span></span><svg class="btx" width="12" height="12"><path d="M1.2 1.2 L9.6 9.6 M9.6 1.2 L1.2 9.6" stroke="#9ca1a5" stroke-width="1.7" fill="none"/></svg></div>
<div class="bt" style="left:1649.5px"><span class="btt">Henkel<span class="dots">...</span></span></div>
</div>
</body></html>
